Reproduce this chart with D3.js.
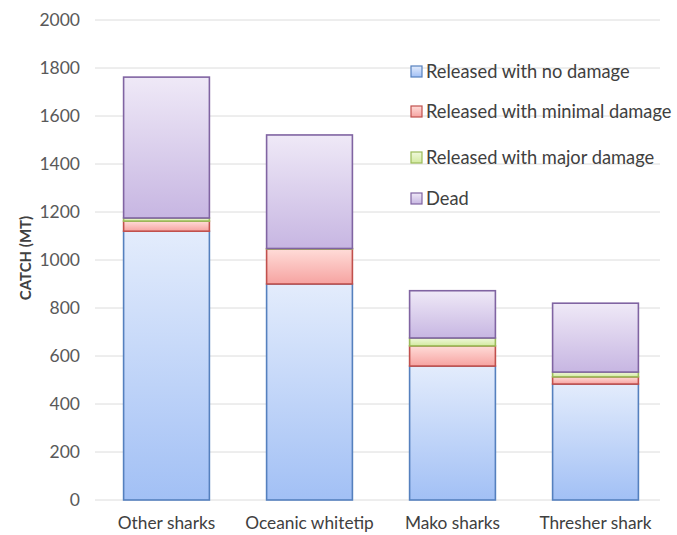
<!DOCTYPE html>
<html>
<head>
<meta charset="utf-8">
<script src="https://cdn.jsdelivr.net/npm/d3@7"></script>
<style>
  html, body { margin: 0; padding: 0; background: #fff; }
  svg { display: block; font-family: Lato, "Open Sans", sans-serif; }
</style>
</head>
<body>
<div id="chart"></div>
<script>
const categories = ["Other sharks", "Oceanic whitetip", "Mako sharks", "Thresher shark"];
const seriesNames = ["Released with no damage", "Released with minimal damage", "Released with major damage", "Dead"];
const noDamage = [1120, 900, 558, 483];
const minimalDamage = [42, 146, 84, 30];
const majorDamage = [13, 2, 33, 20];
const dead = [587, 473, 197, 287];
const yTicks = [0, 200, 400, 600, 800, 1000, 1200, 1400, 1600, 1800, 2000];

const seriesValues = [noDamage, minimalDamage, majorDamage, dead];
const colors = [
  { top: "#e3ecfc", bottom: "#a2c0f5", stroke: "#5580be" },
  { top: "#ffdcd8", bottom: "#f6a3a1", stroke: "#c0504d" },
  { top: "#f0f8dc", bottom: "#d3eaa0", stroke: "#9bbb59" },
  { top: "#efe9f7", bottom: "#c7b6e2", stroke: "#8064a2" }
];

const W = 677, H = 535;
const svg = d3.select("#chart").append("svg").attr("width", W).attr("height", H);

const x = d3.scaleBand().domain(categories).range([95, 667]).paddingInner(0.4).paddingOuter(0.2);
const y = d3.scaleLinear().domain([0, 2000]).range([500, 20]);

const defs = svg.append("defs");
colors.forEach((c, i) => {
  const g = defs.append("linearGradient").attr("id", "grad" + i)
    .attr("x1", 0).attr("y1", 0).attr("x2", 0).attr("y2", 1);
  g.append("stop").attr("offset", "0%").attr("stop-color", c.top);
  g.append("stop").attr("offset", "100%").attr("stop-color", c.bottom);
});

// gridlines
svg.append("g").selectAll("line").data(yTicks).join("line")
  .attr("x1", 95).attr("x2", 660)
  .attr("y1", d => y(d)).attr("y2", d => y(d))
  .attr("stroke", "#dcdcdc").attr("stroke-width", 1);

// y axis labels
const yAxis = d3.axisLeft(y).tickValues(yTicks).tickSize(0).tickPadding(0).tickFormat(d3.format("d"));
const ya = svg.append("g").attr("transform", "translate(80,0)").call(yAxis);
ya.select(".domain").remove();
ya.selectAll("text").attr("fill", "#595959").style("font-size", "17.5px").style("font-family", "Lato, 'Open Sans', sans-serif");

// x axis labels
const xAxis = d3.axisBottom(x).tickSize(0).tickPadding(0);
const xa = svg.append("g").attr("transform", "translate(0,517)").call(xAxis);
xa.select(".domain").remove();
xa.selectAll("text").attr("fill", "#404040").style("font-size", "17.3px").style("font-family", "Lato, 'Open Sans', sans-serif");

// y title
svg.append("text")
  .attr("transform", "translate(31,258) rotate(-90)")
  .attr("text-anchor", "middle")
  .attr("fill", "#404040")
  .style("font-size", "15px").style("font-weight", "bold")
  .text("CATCH (MT)");

// stacked bars
const table = categories.map((c, i) => {
  const o = { category: c };
  seriesNames.forEach((s, j) => o[s] = seriesValues[j][i]);
  return o;
});
const stack = d3.stack().keys(seriesNames)(table);
stack.forEach((layer, i) => {
  svg.append("g").selectAll("rect").data(layer).join("rect")
    .attr("x", d => x(d.data.category))
    .attr("width", x.bandwidth())
    .attr("y", d => y(d[1]))
    .attr("height", d => Math.max(0, y(d[0]) - y(d[1])))
    .attr("fill", `url(#grad${i})`)
    .attr("stroke", colors[i].stroke)
    .attr("stroke-width", 1.6);
});

// legend
const legendY = [71, 111, 157, 198];
const lg = svg.append("g");
seriesNames.forEach((s, i) => {
  lg.append("rect")
    .attr("x", 411).attr("y", legendY[i] - 5).attr("width", 11).attr("height", 11)
    .attr("fill", `url(#grad${i})`).attr("stroke", colors[i].stroke).attr("stroke-width", 1.2);
  lg.append("text")
    .attr("x", 426).attr("y", legendY[i] + 6.5)
    .attr("fill", "#404040")
    .style("font-size", "18.3px")
    .text(s);
});
</script>
</body>
</html>
